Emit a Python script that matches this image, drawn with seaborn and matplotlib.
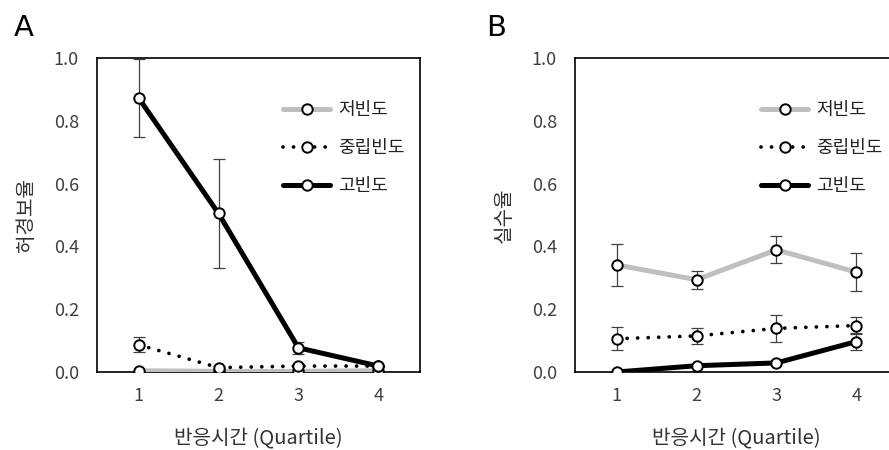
import numpy as np
import pandas as pd
import matplotlib
matplotlib.use("Agg")
import matplotlib.pyplot as plt
import seaborn as sns

# -------------------------------
# DATA
# -------------------------------
quartiles = [1, 2, 3, 4]
groups = ['저빈도', '중립빈도', '고빈도']

# panel A: 허경보율
fa_low = [0.004, 0.002, 0.002, 0.004]
fa_low_err = [0.0, 0.0, 0.0, 0.0]
fa_mid = [0.087, 0.014, 0.019, 0.019]
fa_mid_err = [0.024, 0.004, 0.004, 0.004]
fa_high = [0.873, 0.505, 0.077, 0.019]
fa_high_err = [0.125, 0.173, 0.020, 0.004]

# panel B: 실수율
err_low = [0.341, 0.294, 0.389, 0.318]
err_low_err = [0.067, 0.029, 0.043, 0.060]
err_mid = [0.106, 0.115, 0.139, 0.148]
err_mid_err = [0.037, 0.026, 0.044, 0.028]
err_high = [0.000, 0.020, 0.029, 0.097]
err_high_err = [0.0, 0.0, 0.0, 0.028]

# -------------------------------
# STYLE
# -------------------------------
sns.set_style("white")
plt.rcParams['font.family'] = ['Noto Sans CJK KR', 'DejaVu Sans']

styles = {
    '저빈도': dict(color='#bfbfbf', lw=3.6, ls='-'),
    '중립빈도': dict(color='black', lw=2.7, ls=(0, (0.01, 2.8))),
    '고빈도': dict(color='black', lw=3.6, ls='-'),
}

fig = plt.figure(figsize=(8.89, 4.5), dpi=100)
axA = fig.add_axes([0.1091, 0.1733, 0.3633, 0.6978])
axB = fig.add_axes([0.6468, 0.1733, 0.3633, 0.6978])


def draw(ax, vals, errs, ylabel):
    for g, v, e in zip(groups, vals, errs):
        df = pd.DataFrame({'Quartile': quartiles, 'Rate': v})
        st = styles[g]
        ax.errorbar(quartiles, v, yerr=e, fmt='none', ecolor='#404040',
                    elinewidth=0.9, capsize=4, capthick=0.9, zorder=2)
        sns.lineplot(data=df, x='Quartile', y='Rate', ax=ax, label=g,
                     color=st['color'], linewidth=st['lw'], linestyle=st['ls'],
                     dash_capstyle='round', marker='o', markersize=7.5,
                     markerfacecolor='white', markeredgecolor='black',
                     markeredgewidth=1.4, zorder=3)
    ax.set_xlim(0.48, 4.52)
    ax.set_ylim(0, 1.0)
    ax.set_xticks(quartiles)
    ax.set_yticks([0.0, 0.2, 0.4, 0.6, 0.8, 1.0])
    ax.set_yticklabels(['0.0', '0.2', '0.4', '0.6', '0.8', '1.0'])
    ax.tick_params(axis='both', direction='out', length=5, width=1,
                   colors='black', labelcolor='#404040', labelsize=13, pad=8)
    ax.tick_params(axis='x', pad=6)
    for s in ax.spines.values():
        s.set_color('black')
        s.set_linewidth(1.2)
    ax.set_xlabel('반응시간 (Quartile)', fontsize=14.5, color='#333333', labelpad=16)
    ax.set_ylabel(ylabel, fontsize=14.5, color='#333333', labelpad=12)
    leg = ax.legend(loc='upper left', bbox_to_anchor=(0.555, 0.885), frameon=False,
                    fontsize=13, handlelength=2.6, handletextpad=0.45,
                    labelspacing=1.1, borderaxespad=0)
    for t in leg.get_texts():
        t.set_color('#222222')


draw(axA, [fa_low, fa_mid, fa_high], [fa_low_err, fa_mid_err, fa_high_err], '허경보율')
draw(axB, [err_low, err_mid, err_high], [err_low_err, err_mid_err, err_high_err], '실수율')

fig.text(0.016, 0.92, 'A', fontsize=21, color='black', family=['DejaVu Sans'])
fig.text(0.547, 0.92, 'B', fontsize=21, color='black', family=['DejaVu Sans'])

fig.savefig('out.png', dpi=100)
